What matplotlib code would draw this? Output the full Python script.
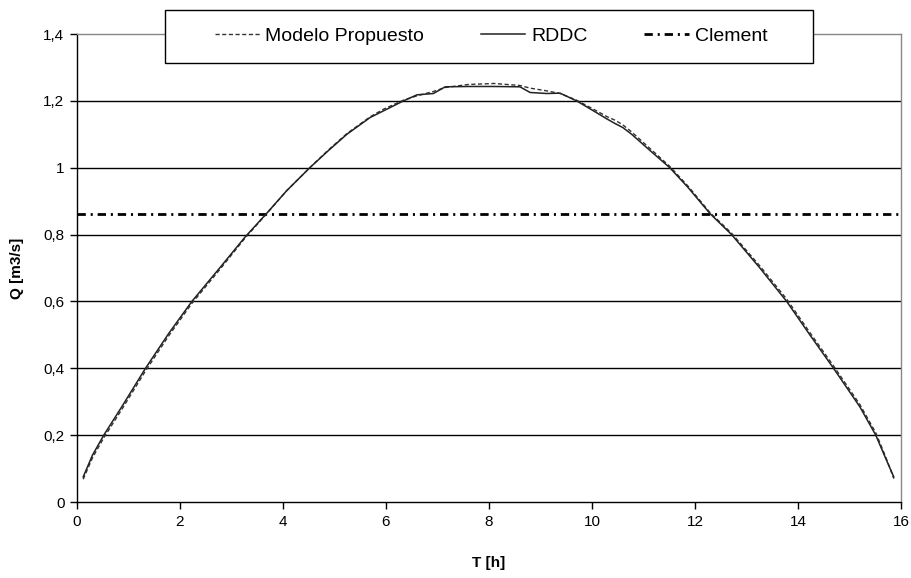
import matplotlib
matplotlib.use("Agg")
import matplotlib.pyplot as plt
from matplotlib.patches import Rectangle
from matplotlib.ticker import FuncFormatter

plt.rcParams['font.family'] = ['Liberation Sans', 'DejaVu Sans']
plt.rcParams['lines.scale_dashes'] = False

# --- data ---
t_h = [0.12, 0.30, 0.52, 0.87, 1.33, 1.78, 2.23, 2.77, 3.26, 3.68, 4.07, 4.52,
       4.88, 5.24, 5.69, 5.95, 6.34, 6.60, 6.92, 7.15, 7.60, 8.10, 8.60, 8.80,
       9.12, 9.38, 9.70, 10.03, 10.30, 10.45, 10.60, 10.77, 11.13, 11.51, 11.87,
       12.29, 12.71, 13.26, 13.78, 14.23, 14.69, 15.20, 15.51, 15.69, 15.86]

q_rddc = [0.075, 0.140, 0.200, 0.285, 0.400, 0.504, 0.600, 0.700, 0.792, 0.863,
          0.931, 1.000, 1.051, 1.100, 1.150, 1.170, 1.200, 1.218, 1.222, 1.242,
          1.243, 1.243, 1.242, 1.225, 1.222, 1.223, 1.200, 1.170, 1.145, 1.132,
          1.120, 1.100, 1.051, 1.000, 0.940, 0.863, 0.800, 0.700, 0.600, 0.500,
          0.400, 0.285, 0.200, 0.135, 0.075]

q_modelo = [0.068, 0.132, 0.192, 0.277, 0.392, 0.497, 0.594, 0.695, 0.789, 0.862,
            0.931, 1.000, 1.053, 1.102, 1.152, 1.175, 1.202, 1.215, 1.228, 1.240,
            1.249, 1.252, 1.246, 1.238, 1.230, 1.222, 1.202, 1.175, 1.152, 1.142,
            1.128, 1.107, 1.057, 1.004, 0.944, 0.866, 0.804, 0.706, 0.607, 0.507,
            0.407, 0.292, 0.207, 0.140, 0.070]

q_clement = 0.863
x_range = [0, 16]

# --- figure ---
W, H = 912, 578
fig = plt.figure(figsize=(W / 100, H / 100), dpi=100)
ax = fig.add_axes([77/W, 1 - 502/H, 824/W, 468/H])

for yg in [0.2, 0.4, 0.6, 0.8, 1.0, 1.2]:
    ax.axhline(yg, color='black', lw=1.0, zorder=1)

ax.plot(t_h, q_modelo, color='#333333', lw=1.0, dashes=(3, 1.8),
        label='Modelo Propuesto', zorder=3)
ax.plot(t_h, q_rddc, color='#222222', lw=1.1, label='RDDC', zorder=3)
ax.plot(x_range, [q_clement, q_clement], color='black', lw=2.0,
        dashes=(6, 3.5, 1.5, 3.5), label='Clement', zorder=2)

ax.set_xlim(0, 16)
ax.set_ylim(0, 1.4)
ax.set_xticks(range(0, 17, 2))
ax.set_yticks([0, 0.2, 0.4, 0.6, 0.8, 1.0, 1.2, 1.4])
ax.yaxis.set_major_formatter(FuncFormatter(lambda v, p: f"{v:g}".replace('.', ',')))
ax.tick_params(direction='out', length=5, width=1, labelsize=11, pad=4)

for s in ['left', 'bottom']:
    ax.spines[s].set_color('black')
    ax.spines[s].set_linewidth(1.0)
for s in ['top', 'right']:
    ax.spines[s].set_color('#888888')
    ax.spines[s].set_linewidth(1.0)

ax.set_xlabel('T [h]', fontsize=11, fontweight='bold', labelpad=20)
ax.set_ylabel('Q [m3/s]', fontsize=11, fontweight='bold', labelpad=14)

# legend box sits over the top of the plot area, like the original Excel chart
box = Rectangle((165/W, 1 - 63/H), 648/W, 53/H, transform=fig.transFigure,
                facecolor='white', edgecolor='black', lw=1.0, zorder=9)
fig.patches.append(box)

leg = fig.legend(loc='center', bbox_to_anchor=(491/W, 1 - 36.5/H), ncol=3,
                 fontsize=14, frameon=False, handlelength=2.3,
                 columnspacing=2.9, borderaxespad=0, handletextpad=0.3)
leg.set_zorder(10)

fig.savefig('out.png', dpi=100, facecolor='white')
